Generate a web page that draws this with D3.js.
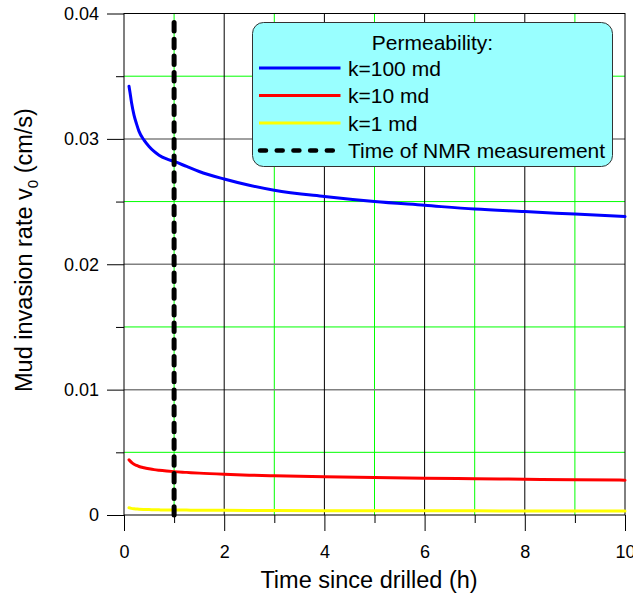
<!DOCTYPE html>
<html>
<head>
<meta charset="utf-8">
<script src="https://cdn.jsdelivr.net/npm/d3@7"></script>
<style>
  body { margin: 0; background: #fff; }
  text { font-family: "Liberation Sans", Arial, sans-serif; fill: #000; }
</style>
</head>
<body>
<div id="chart"></div>
<script>
// values
var timeH  = [0.1, 0.12, 0.15, 0.2, 0.25, 0.3, 0.4, 0.5, 0.6, 0.7, 0.85, 1, 1.25, 1.5, 2, 2.5, 3, 4, 5, 6, 7, 8, 9, 10];
var k100   = [0.0342, 0.0337, 0.0329, 0.0319, 0.0312, 0.0306, 0.0299, 0.0294, 0.0290, 0.0287, 0.0284, 0.0282, 0.0278, 0.0274, 0.0268, 0.0263, 0.0259, 0.0254, 0.0250, 0.0247, 0.0244, 0.0242, 0.0240, 0.0238];
var k10    = [0.00440, 0.00432, 0.00420, 0.00405, 0.00395, 0.00387, 0.00377, 0.00369, 0.00362, 0.00357, 0.00351, 0.00346, 0.00340, 0.00334, 0.00325, 0.00318, 0.00313, 0.00305, 0.00299, 0.00293, 0.00289, 0.00285, 0.00281, 0.00278];
var k1     = [0.00058, 0.00056, 0.00053, 0.00050, 0.00048, 0.00046, 0.00044, 0.00043, 0.00042, 0.00041, 0.00040, 0.00040, 0.00039, 0.00038, 0.00037, 0.00036, 0.00035, 0.00034, 0.00034, 0.00033, 0.00033, 0.00032, 0.00032, 0.00032];
var nmrTime = 1;
var xTicks = [0, 2, 4, 6, 8, 10];
var yTicks = [0, 0.01, 0.02, 0.03, 0.04];
var legendNames = ["k=100 md", "k=10 md", "k=1 md", "Time of NMR measurement"];

var svgWidth = 633, svgHeight = 597;
var margin = {top: 13.5, right: 8, bottom: 82, left: 124};
var width = svgWidth - margin.left - margin.right;
var height = svgHeight - margin.top - margin.bottom;

var svg = d3.select("#chart").append("svg")
  .attr("width", svgWidth)
  .attr("height", svgHeight);

var g = svg.append("g")
  .attr("transform", `translate(${margin.left}, ${margin.top})`);

var x = d3.scaleLinear().domain([0, 10]).range([0, width]);
var y = d3.scaleLinear().domain([0, 0.04]).range([height, 0]);

// minor grid (green)
g.append("g").selectAll("line")
  .data(d3.range(1, 10, 2))
  .enter().append("line")
  .attr("x1", d => x(d)).attr("x2", d => x(d))
  .attr("y1", 0).attr("y2", height)
  .attr("stroke", "#00ff00").attr("stroke-width", 1);

g.append("g").selectAll("line")
  .data([0.005, 0.015, 0.025, 0.035])
  .enter().append("line")
  .attr("x1", 0).attr("x2", width)
  .attr("y1", d => y(d)).attr("y2", d => y(d))
  .attr("stroke", "#00ff00").attr("stroke-width", 1);

// major grid
g.append("g").selectAll("line")
  .data([0.01, 0.02, 0.03])
  .enter().append("line")
  .attr("x1", 0).attr("x2", width)
  .attr("y1", d => y(d)).attr("y2", d => y(d))
  .attr("stroke", "#808080").attr("stroke-width", 1.5);

g.append("g").selectAll("line")
  .data([2, 4, 6, 8])
  .enter().append("line")
  .attr("x1", d => x(d)).attr("x2", d => x(d))
  .attr("y1", 0).attr("y2", height)
  .attr("stroke", "#000").attr("stroke-width", 1);

// axes
var xAxis = d3.axisBottom(x).tickValues(xTicks).tickFormat(d3.format("d"))
  .tickSizeInner(16).tickSizeOuter(0).tickPadding(14);
var xMinor = d3.axisBottom(x).tickValues(d3.range(1, 10, 2)).tickFormat("")
  .tickSizeInner(8).tickSizeOuter(0);
var yAxis = d3.axisLeft(y).tickValues(yTicks).tickFormat(d => d === 0 ? "0" : d3.format(".2f")(d))
  .tickSizeInner(17).tickSizeOuter(0).tickPadding(8);
var yMinor = d3.axisLeft(y).tickValues([0.005, 0.015, 0.025, 0.035]).tickFormat("")
  .tickSizeInner(8).tickSizeOuter(0);

[[xMinor, true], [xAxis, true], [yMinor, false], [yAxis, false]].forEach(function(a) {
  var ax = g.append("g")
    .attr("transform", a[1] ? `translate(0, ${height})` : null)
    .call(a[0]);
  ax.select(".domain").remove();
  ax.selectAll("line").attr("stroke", "#000").attr("stroke-width", 1);
  ax.selectAll("text").attr("font-size", 18).attr("font-family", "Liberation Sans, Arial, sans-serif");
});

// frame
g.append("rect")
  .attr("width", width).attr("height", height)
  .attr("fill", "none").attr("stroke", "#000").attr("stroke-width", 1);

// curves
var line = d3.line()
  .x((d, i) => x(timeH[i]))
  .y(d => y(d))
  .curve(d3.curveMonotoneX);

var series = [[k100, "#0000ff"], [k10, "#ff0000"], [k1, "#ffff00"]];
series.forEach(function(s) {
  g.append("path")
    .datum(s[0])
    .attr("d", line)
    .attr("fill", "none")
    .attr("stroke", s[1])
    .attr("stroke-width", 3)
    .attr("stroke-linecap", "round");
});

// NMR time line
g.append("line")
  .attr("x1", x(nmrTime)).attr("x2", x(nmrTime))
  .attr("y1", 9).attr("y2", height)
  .attr("stroke", "#000").attr("stroke-width", 5)
  .attr("stroke-dasharray", "8.5,8.2")
  .attr("stroke-linecap", "round");

// legend
var lg = svg.append("g").attr("transform", "translate(252.5, 22.5)");
lg.append("rect")
  .attr("width", 360).attr("height", 144)
  .attr("rx", 11).attr("ry", 11)
  .attr("fill", "#99ffff").attr("stroke", "#333").attr("stroke-width", 1);

lg.append("text")
  .attr("x", 180).attr("y", 27)
  .attr("text-anchor", "middle")
  .attr("font-size", 21)
  .text("Permeability:");

var legendStyles = [["#0000ff", null], ["#ff0000", null], ["#ffff00", null], ["#000", "6,10.7"]];
legendNames.forEach(function(name, i) {
  var yy = 45.5 + i * 27.5;
  lg.append("line")
    .attr("x1", i === 3 ? 7.5 : 6.5).attr("x2", i === 3 ? 86 : 88)
    .attr("y1", yy).attr("y2", yy)
    .attr("stroke", legendStyles[i][0])
    .attr("stroke-width", i === 3 ? 4.5 : 3)
    .attr("stroke-dasharray", legendStyles[i][1])
    .attr("stroke-linecap", i === 3 ? "round" : "butt");
  lg.append("text")
    .attr("x", 95.5).attr("y", yy + 7.5)
    .attr("font-size", 21)
    .text(name);
});

// axis titles
svg.append("text")
  .attr("x", 369).attr("y", 588)
  .attr("text-anchor", "middle")
  .attr("font-size", 23.5)
  .text("Time since drilled (h)");

var yt = svg.append("text")
  .attr("transform", "translate(32, 250) rotate(-90)")
  .attr("text-anchor", "middle")
  .attr("font-size", 23.5);
yt.append("tspan").text("Mud invasion rate v");
yt.append("tspan").attr("font-size", 15).attr("dy", 6).text("0");
yt.append("tspan").attr("dy", -6).text(" (cm/s)");
</script>
</body>
</html>
